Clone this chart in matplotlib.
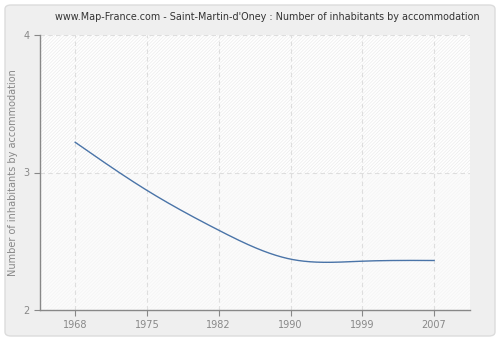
import numpy as np
import matplotlib
matplotlib.use("Agg")
import matplotlib.pyplot as plt
from matplotlib.patches import FancyBboxPatch

years = ["1968", "1975", "1982", "1990", "1999", "2007"]
values = [3.22, 2.87, 2.58, 2.37, 2.355, 2.36]
yticks = [2, 3, 4]
title = "www.Map-France.com - Saint-Martin-d'Oney : Number of inhabitants by accommodation"
ylabel = "Number of inhabitants by accommodation"


def natural_spline(x, y, xs):
    x = np.asarray(x, float); y = np.asarray(y, float)
    n = len(x)
    h = np.diff(x)
    A = np.zeros((n, n)); b = np.zeros(n)
    A[0, 0] = 1; A[-1, -1] = 1
    for i in range(1, n - 1):
        A[i, i - 1] = h[i - 1]
        A[i, i] = 2 * (h[i - 1] + h[i])
        A[i, i + 1] = h[i]
        b[i] = 3 * ((y[i + 1] - y[i]) / h[i] - (y[i] - y[i - 1]) / h[i - 1])
    c = np.linalg.solve(A, b)
    out = np.empty_like(xs)
    for k, xv in enumerate(xs):
        i = min(np.searchsorted(x, xv, side="right") - 1, n - 2)
        i = max(i, 0)
        dx = xv - x[i]
        bb = (y[i + 1] - y[i]) / h[i] - h[i] * (2 * c[i] + c[i + 1]) / 3
        d = (c[i + 1] - c[i]) / (3 * h[i])
        out[k] = y[i] + bb * dx + c[i] * dx ** 2 + d * dx ** 3
    return out


plt.rcParams["hatch.linewidth"] = 0.5
fig = plt.figure(figsize=(5, 3.4), dpi=100)
fig.patch.set_facecolor("white")
bg = FancyBboxPatch((5 / 500, 4 / 340), 490 / 500, 331 / 340,
                    boxstyle="round,pad=0,rounding_size=0.012",
                    transform=fig.transFigure, facecolor="#efefef",
                    edgecolor="#dcdcdc", linewidth=1, zorder=-10)
fig.patches.append(bg)

ax = fig.add_axes([40 / 500, 30 / 340, 430 / 500, 275 / 340])
ax.set_facecolor("white")
x = np.arange(len(years))
ax.set_xlim(-0.49, len(years) - 0.5)
ax.set_ylim(yticks[0], yticks[-1])

ax.axhspan(3, 4, facecolor="white", edgecolor="#ececec", hatch="/" * 10, linewidth=0, zorder=0)
ax.axhspan(2, 3, facecolor="#fcfcfc", edgecolor="#f4f4f4", hatch="/" * 10, linewidth=0, zorder=0)

for xi in x:
    ax.axvline(xi, color="#dedede", linestyle=(0, (4, 3)), linewidth=0.8, zorder=1)
for yv in yticks[1:]:
    ax.axhline(yv, color="#dedede", linestyle=(0, (4, 3)), linewidth=0.8, zorder=1)

xs = np.linspace(x[0], x[-1], 400)
ax.plot(xs, natural_spline(x, values, xs), color="#4a74a8", linewidth=1.0, zorder=3)

ax.set_xticks(x)
ax.set_xticklabels(years)
ax.set_yticks(yticks)
ax.tick_params(colors="#888888", labelcolor="#888888", labelsize=7, length=4, width=0.8, direction="out")
for s in ["top", "right"]:
    ax.spines[s].set_visible(False)
for s in ["left", "bottom"]:
    ax.spines[s].set_color("#888888")
    ax.spines[s].set_linewidth(1)
ax.set_ylabel(ylabel, color="#888888", fontsize=7)
ax.yaxis.set_label_coords(-0.052, 0.5)

fig.text(267 / 500, 1 - 17 / 340, title, ha="center", va="center", fontsize=6.9, color="#333333")

fig.savefig("out.png", dpi=100)
